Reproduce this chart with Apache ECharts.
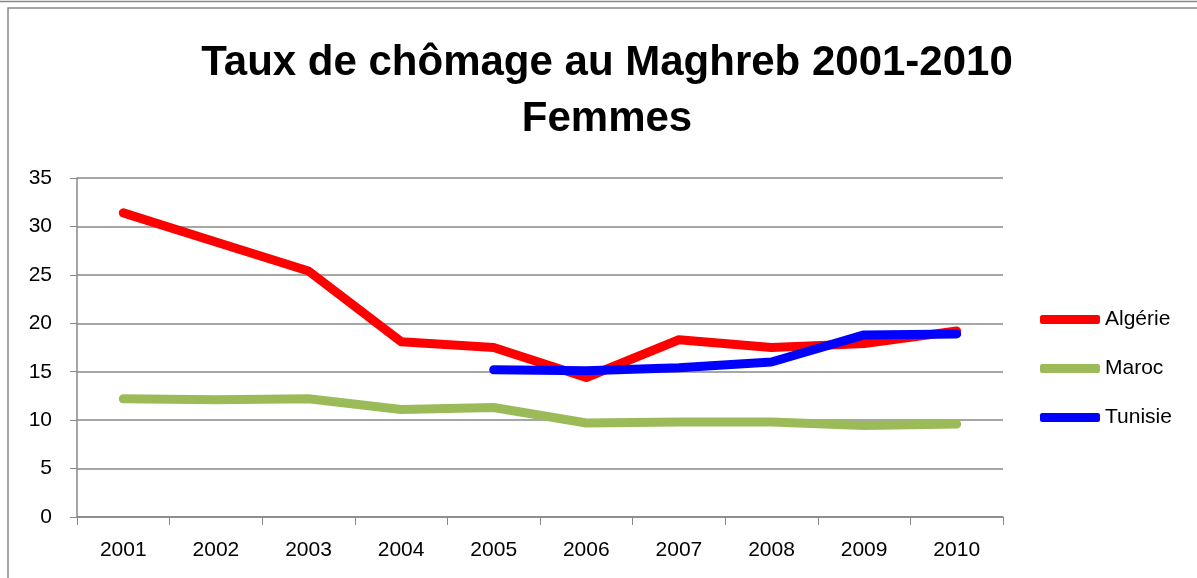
<!DOCTYPE html>
<html><head><meta charset="utf-8">
<script src="https://cdn.jsdelivr.net/npm/echarts@6/dist/echarts.min.js"></script>
<style>html,body{margin:0;padding:0;background:#fff}#c{width:1197px;height:578px}</style>
</head><body><div id="c"></div>
<script>
const categories = ['2001','2002','2003','2004','2005','2006','2007','2008','2009','2010'];
const algerie = [31.4, 28.4, 25.4, 18.1, 17.5, 14.4, 18.3, 17.5, 17.9, 19.2];
const maroc = [12.2, 12.1, 12.2, 11.1, 11.3, 9.7, 9.8, 9.8, 9.45, 9.6];
const tunisie = [null, null, null, null, 15.2, 15.1, 15.4, 16.0, 18.8, 18.9];
const seriesNames = ['Algérie', 'Maroc', 'Tunisie'];
const colors = ['#FF0000', '#9BBB59', '#0000FF'];
const yTicks = {min: 0, max: 35, interval: 5};
const FONT = '"Liberation Sans", Arial, sans-serif';

const chart = echarts.init(document.getElementById('c'));
const mk = (name, data, color) => ({
  name, type: 'line', data, symbol: 'none', smooth: false, connectNulls: false,
  lineStyle: {width: 9, color, cap: 'round', join: 'round'}, itemStyle: {color}
});
chart.setOption({
  animation: false,
  backgroundColor: '#fff',
  textStyle: {fontFamily: FONT},
  title: {
    text: 'Taux de chômage au Maghreb 2001-2010\nFemmes',
    left: 607, top: 35, textAlign: 'center', padding: 0,
    textStyle: {fontFamily: FONT, fontWeight: 'bold', fontSize: 42, lineHeight: 56, color: '#000'}
  },
  graphic: [
    {type: 'line', shape: {x1: 0, y1: 1.5, x2: 1197, y2: 1.5}, style: {stroke: '#888', lineWidth: 1.5}},
    {type: 'rect', shape: {x: 8, y: 8, width: 1300, height: 700}, style: {fill: null, stroke: '#888', lineWidth: 1.5}}
  ],
  legend: {
    orient: 'vertical', left: 1040, top: 309, itemGap: 28, padding: 0,
    itemWidth: 60, itemHeight: 9, itemStyle: {borderWidth: 0},
    icon: 'roundRect',
    textStyle: {fontFamily: FONT, fontSize: 21, color: '#000'},
    data: seriesNames
  },
  grid: {left: 77, right: 194, top: 178, bottom: 61, containLabel: false},
  xAxis: {
    type: 'category', data: categories, boundaryGap: true,
    axisLine: {lineStyle: {color: '#888', width: 1.5}},
    axisTick: {show: true, length: 8, lineStyle: {color: '#888'}},
    axisLabel: {color: '#000', fontSize: 21, fontFamily: FONT, margin: 23}
  },
  yAxis: {
    type: 'value', min: yTicks.min, max: yTicks.max, interval: yTicks.interval,
    axisLine: {show: true, lineStyle: {color: '#888', width: 1.5}},
    axisTick: {show: true, length: 7, lineStyle: {color: '#888'}},
    splitLine: {lineStyle: {color: '#888', width: 1.5}},
    axisLabel: {color: '#000', fontSize: 21, fontFamily: FONT, margin: 25}
  },
  series: [mk(seriesNames[0], algerie, colors[0]), mk(seriesNames[1], maroc, colors[1]), mk(seriesNames[2], tunisie, colors[2])]
});
</script></body></html>
